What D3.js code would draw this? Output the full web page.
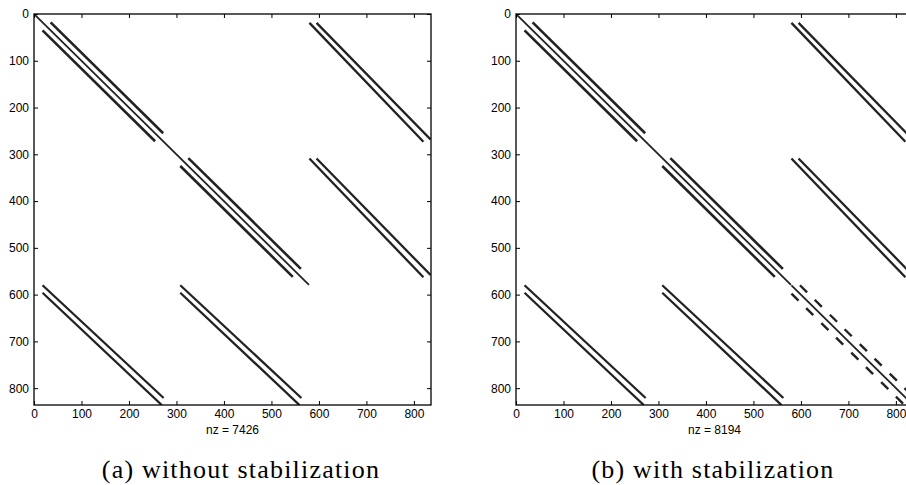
<!DOCTYPE html>
<html>
<head>
<meta charset="utf-8">
<script src="https://cdn.jsdelivr.net/npm/d3@7"></script>
<style>
  html, body { margin: 0; padding: 0; background: #fff; overflow: hidden; }
  svg { display: block; }
</style>
</head>
<body>
<div id="chart"></div>
<script>
// matrix size (spy axis goes 0 .. n+1)
const N = 836;
const tickValues = [0, 100, 200, 300, 400, 500, 600, 700, 800];

// nonzero bands: [rowStart, colStart, rowEnd, colEnd]
const mainDiag = [[0, 0, 579, 579]];
const diagSegs = [
  [18, 35, 255, 272], [35, 18, 272, 255],
  [308, 325, 545, 562], [325, 308, 562, 545]
];
const couplingSegs = [
  [19, 580, 273, 820], [19, 595, 268, 835],
  [309, 580, 563, 820], [309, 595, 558, 835],
  [580, 18, 821, 273], [596, 18, 836, 269],
  [580, 308, 821, 563], [596, 308, 836, 559]
];
// extra entries of the stabilized matrix (block 3,3)
const stabDiag = [[580, 580, 836, 836]];
const stabDashUpper = [
  [580, 598, 595, 613], [611, 629, 626, 644], [643, 661, 658, 676],
  [674, 692, 689, 707], [706, 724, 721, 739], [737, 755, 752, 770],
  [769, 787, 784, 802], [800, 818, 815, 833]
];
const stabDashLower = [
  [598, 580, 613, 595], [629, 611, 644, 626], [661, 643, 676, 658],
  [692, 674, 707, 689], [724, 706, 739, 721], [755, 737, 770, 752],
  [787, 769, 802, 784], [818, 800, 833, 815]
];

const panels = [
  { left: 34, nz: 'nz = 7426', caption: '(a) without stabilization', capX: 241,
    groups: [[diagSegs, 2.6], [couplingSegs, 2.3], [mainDiag, 1.8]] },
  { left: 516, nz: 'nz = 8194', caption: '(b) with stabilization', capX: 713,
    groups: [[diagSegs, 2.6], [couplingSegs, 2.3], [stabDashUpper.concat(stabDashLower), 2.4],
             [mainDiag.concat(stabDiag), 1.8]] }
];

const width = 906, height = 485;
const plotTop = 14, plotW = 397, plotH = 391;

const svg = d3.select('#chart')
  .append('svg')
  .attr('width', width)
  .attr('height', height);

const x = d3.scaleLinear().domain([0, N]).range([0, plotW]);
const y = d3.scaleLinear().domain([0, N]).range([0, plotH]);

panels.forEach((p, i) => {
  const g = svg.append('g').attr('transform', `translate(${p.left}, ${plotTop})`);

  g.append('clipPath').attr('id', 'clip' + i)
    .append('rect').attr('width', plotW).attr('height', plotH);

  // nonzero pattern
  const marks = g.append('g').attr('clip-path', `url(#clip${i})`);
  p.groups.forEach(([segs, w]) => {
    marks.append('g').selectAll('line')
      .data(segs)
      .enter().append('line')
      .attr('x1', d => x(d[1])).attr('y1', d => y(d[0]))
      .attr('x2', d => x(d[3])).attr('y2', d => y(d[2]))
      .style('stroke', '#222')
      .style('stroke-width', w);
  });

  // axes, ticks pointing inward on every side
  const font = sel => sel.selectAll('text')
    .style('font-family', '"Liberation Sans", Arial, sans-serif')
    .style('font-size', '12px')
    .style('fill', '#000');

  g.append('g').attr('transform', `translate(0, ${plotH})`)
    .call(d3.axisBottom(x).tickValues(tickValues).tickSizeInner(-4).tickSizeOuter(0).tickPadding(4))
    .call(font);
  g.append('g')
    .call(d3.axisLeft(y).tickValues(tickValues).tickSizeInner(-4).tickSizeOuter(0).tickPadding(5))
    .call(font);
  g.append('g')
    .call(d3.axisTop(x).tickValues(tickValues).tickSizeInner(-4).tickSizeOuter(0).tickFormat(''));
  g.append('g').attr('transform', `translate(${plotW}, 0)`)
    .call(d3.axisRight(y).tickValues(tickValues).tickSizeInner(-4).tickSizeOuter(0).tickFormat(''));

  g.selectAll('.domain').remove();
  g.selectAll('.tick line').style('stroke', '#000').style('stroke-width', 1);

  g.append('rect')
    .attr('width', plotW).attr('height', plotH)
    .style('fill', 'none').style('stroke', '#000').style('stroke-width', 1.3);

  g.append('text')
    .attr('x', plotW / 2).attr('y', plotH + 29)
    .attr('text-anchor', 'middle')
    .style('font-family', '"Liberation Sans", Arial, sans-serif')
    .style('font-size', '12px')
    .text(p.nz);

  svg.append('text')
    .attr('x', p.capX).attr('y', 478)
    .attr('text-anchor', 'middle')
    .style('font-family', '"Liberation Serif", "Times New Roman", serif')
    .style('font-size', '26px')
    .style('letter-spacing', '1.2px')
    .text(p.caption);
});
</script>
</body>
</html>
